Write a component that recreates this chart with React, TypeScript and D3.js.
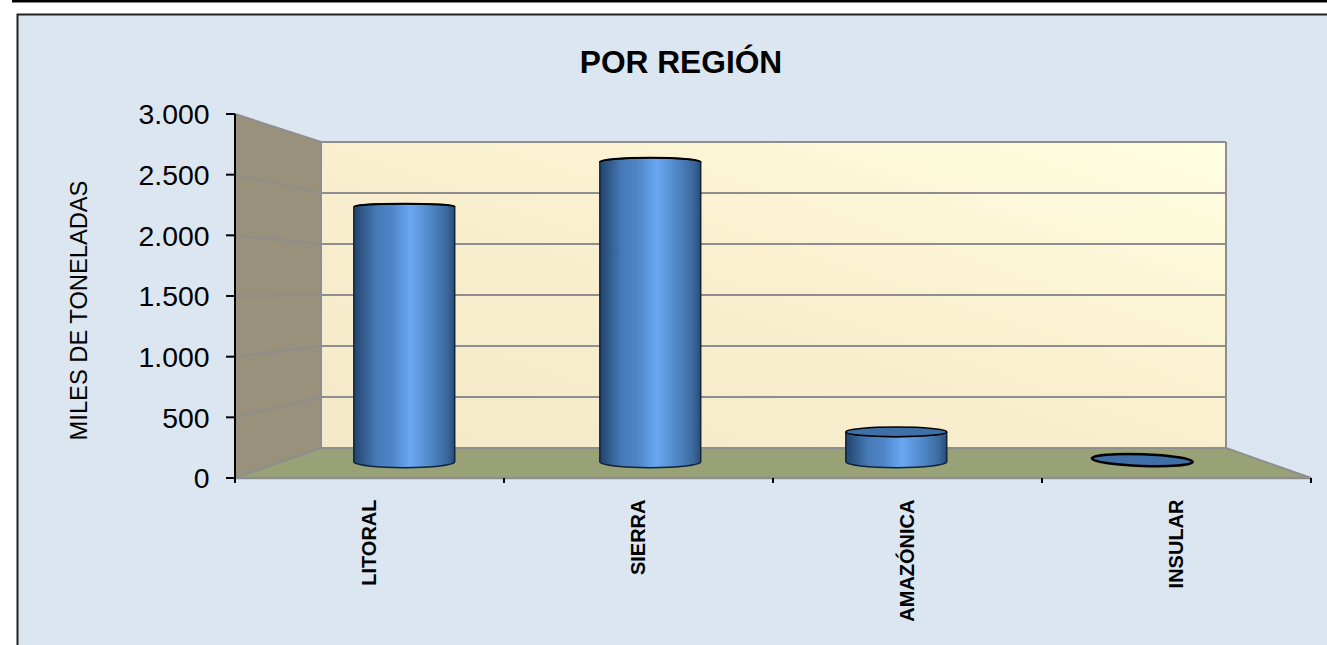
import * as d3 from 'd3';
import { useEffect, useRef } from 'react';

const categories = ['LITORAL', 'SIERRA', 'AMAZÓNICA', 'INSULAR'];
const values = [2300, 2700, 270, 20];
const yTicks = [0, 500, 1000, 1500, 2000, 2500, 3000];
const tickLabels = ['0', '500', '1.000', '1.500', '2.000', '2.500', '3.000'];
const chartTitle = 'POR REGIÓN';
const yTitle = 'MILES DE TONELADAS';

const WIDTH = 1327;
const HEIGHT = 645;
const FONT = '"Liberation Sans", Arial, sans-serif';
const BAR_DEPTH = 0.538;

function App() {
  const ref = useRef<SVGSVGElement | null>(null);

  useEffect(() => {
    const svg = d3.select(ref.current);
    svg.selectAll('*').remove();

    // front plane and back wall of the fake 3d box
    const xFront = d3.scaleLinear().domain([0, categories.length]).range([235, 1311]);
    const xBack = d3.scaleLinear().domain([0, categories.length]).range([321, 1226]);
    const yFront = d3.scaleLinear().domain([0, 3000]).range([478, 114]);
    const yBack = d3.scaleLinear().domain([0, 3000]).range([448, 142]);
    const atDepth = (a: number, b: number, t: number) => d3.interpolateNumber(a, b)(t);
    const xAt = (i: number, t: number) => atDepth(xFront(i), xBack(i), t);
    const yAt = (v: number, t: number) => atDepth(yFront(v), yBack(v), t);

    const defs = svg.append('defs');
    const wall = defs.append('linearGradient').attr('id', 'wall')
      .attr('x1', '0%').attr('y1', '100%').attr('x2', '100%').attr('y2', '0%');
    wall.append('stop').attr('offset', '0%').attr('stop-color', '#f3e9c8');
    wall.append('stop').attr('offset', '55%').attr('stop-color', '#faf0d0');
    wall.append('stop').attr('offset', '100%').attr('stop-color', '#ffffe2');
    const body = defs.append('linearGradient').attr('id', 'body')
      .attr('x1', '0%').attr('y1', '0%').attr('x2', '100%').attr('y2', '0%');
    [['0%', '#23436c'], ['22%', '#467ab6'], ['38%', '#4f86c8'], ['56%', '#6aa8f2'], ['78%', '#4e84c4'], ['92%', '#3c6a9f'], ['100%', '#2a4c78']]
      .forEach(([o, c]) => body.append('stop').attr('offset', o).attr('stop-color', c));

    svg.append('rect').attr('width', WIDTH).attr('height', HEIGHT).attr('fill', '#ffffff');
    svg.append('rect').attr('x', 12).attr('y', 0).attr('width', WIDTH - 12).attr('height', 2.5).attr('fill', '#000');
    svg.append('rect').attr('x', 17.5).attr('y', 14.5).attr('width', WIDTH).attr('height', HEIGHT)
      .attr('fill', '#dce6f1').attr('stroke', '#222').attr('stroke-width', 2);

    const left = xFront(0);
    const right = xFront(categories.length);
    const bLeft = xBack(0);
    const bRight = xBack(categories.length);
    const edge = '#8e8e8e';

    // side wall, floor, back wall
    svg.append('path')
      .attr('d', `M${left},${yFront(3000)}L${bLeft},${yBack(3000)}L${bLeft},${yBack(0)}L${left},${yFront(0)}Z`)
      .attr('fill', '#9a917d');
    svg.append('path')
      .attr('d', `M${left},${yFront(0)}L${bLeft},${yBack(0)}L${bRight},${yBack(0)}L${right},${yFront(0)}Z`)
      .attr('fill', '#98a276');
    svg.append('rect')
      .attr('x', bLeft).attr('y', yBack(3000))
      .attr('width', bRight - bLeft).attr('height', yBack(0) - yBack(3000))
      .attr('fill', 'url(#wall)');

    // gridlines run along the side wall and then the back wall
    yTicks.forEach((t) => {
      const pts = t === 0
        ? [[left, yFront(t)], [bLeft, yBack(t)], [bRight, yBack(t)], [right, yFront(t)]]
        : [[left, yFront(t)], [bLeft, yBack(t)], [bRight, yBack(t)]];
      svg.append('path')
        .attr('d', d3.line()(pts as [number, number][]))
        .attr('fill', 'none').attr('stroke', edge).attr('stroke-width', 2);
    });
    svg.append('path')
      .attr('d', `M${bLeft},${yBack(3000)}V${yBack(0)}M${bRight},${yBack(3000)}V${yBack(0)}`)
      .attr('stroke', edge).attr('stroke-width', 2).attr('fill', 'none');
    svg.append('line')
      .attr('x1', left).attr('x2', right).attr('y1', yFront(0)).attr('y2', yFront(0))
      .attr('stroke', edge).attr('stroke-width', 2.5);

    // cylinders
    const rimRy = (y: number) => Math.abs(y - 295) * 0.035;
    values.forEach((v, i) => {
      const x0 = xAt(i + 0.295, BAR_DEPTH);
      const x1 = xAt(i + 0.705, BAR_DEPTH);
      const rx = (x1 - x0) / 2;
      const cx = (x0 + x1) / 2;
      const yBase = yAt(0, BAR_DEPTH);
      const yTop = yAt(v, BAR_DEPTH);
      const g = svg.append('g');
      const baseRy = rimRy(yBase);

      if (v < 100) {
        // almost no height, only the lid shows
        g.append('ellipse')
          .attr('cx', cx).attr('cy', yTop + 0.5).attr('rx', rx).attr('ry', 5.8)
          .attr('transform', `rotate(2 ${cx} ${yTop + 0.5})`)
          .attr('fill', '#3f6fa6').attr('stroke', '#000').attr('stroke-width', 2.5);
        return;
      }

      const topRy = rimRy(yTop);
      const isAbove = yTop < 295;
      g.append('path')
        .attr('d', `M${x0},${yTop}L${x0},${yBase}A${rx},${baseRy} 0 0 0 ${x1},${yBase}L${x1},${yTop}`
          + `A${rx},${topRy} 0 0 ${isAbove ? 0 : 1} ${x0},${yTop}Z`)
        .attr('fill', 'url(#body)').attr('stroke', '#10233c').attr('stroke-width', 1.5);
      if (isAbove) {
        g.append('path')
          .attr('d', `M${x0},${yTop}A${rx},${topRy} 0 0 1 ${x1},${yTop}`)
          .attr('fill', 'none').attr('stroke', '#000').attr('stroke-width', 2);
      } else {
        g.append('ellipse')
          .attr('cx', cx).attr('cy', yTop).attr('rx', rx).attr('ry', topRy)
          .attr('fill', '#3f6fa6').attr('stroke', '#000').attr('stroke-width', 1.5);
      }
    });

    // axes
    svg.append('line')
      .attr('x1', left).attr('x2', left).attr('y1', yFront(3000)).attr('y2', yFront(0) + 5)
      .attr('stroke', '#000').attr('stroke-width', 2);
    yTicks.forEach((t, i) => {
      svg.append('line')
        .attr('x1', left - 9).attr('x2', left).attr('y1', yFront(t)).attr('y2', yFront(t))
        .attr('stroke', '#000').attr('stroke-width', 2);
      svg.append('text')
        .attr('x', 209.5).attr('y', yFront(t)).attr('dy', '0.36em')
        .attr('text-anchor', 'end').attr('font-family', FONT).attr('font-size', 28.4)
        .attr('fill', '#000').text(tickLabels[i]);
    });
    d3.range(1, categories.length + 1).forEach((i) => {
      svg.append('line')
        .attr('x1', xFront(i)).attr('x2', xFront(i)).attr('y1', yFront(0)).attr('y2', yFront(0) + 5)
        .attr('stroke', '#000').attr('stroke-width', 2);
    });

    categories.forEach((c, i) => {
      const x = xFront(i + 0.5) - 1;
      svg.append('text')
        .attr('transform', `translate(${x},499.5) rotate(-90)`)
        .attr('dy', '0.36em').attr('text-anchor', 'end')
        .attr('font-family', FONT).attr('font-size', 20).attr('font-weight', 700)
        .attr('fill', '#000').text(c);
    });

    svg.append('text')
      .attr('x', 681).attr('y', 72.5).attr('text-anchor', 'middle')
      .attr('font-family', FONT).attr('font-size', 31.7).attr('font-weight', 700)
      .attr('fill', '#000').text(chartTitle);
    svg.append('text')
      .attr('transform', 'translate(78,310.5) rotate(-90)')
      .attr('dy', '0.36em').attr('text-anchor', 'middle')
      .attr('font-family', FONT).attr('font-size', 23.7)
      .attr('fill', '#000').text(yTitle);
  }, []);

  return (
    <svg
      ref={ref}
      width={WIDTH}
      height={HEIGHT}
      style={{ position: 'absolute', left: 0, top: 0, display: 'block' }}
    />
  );
}

export default App;
